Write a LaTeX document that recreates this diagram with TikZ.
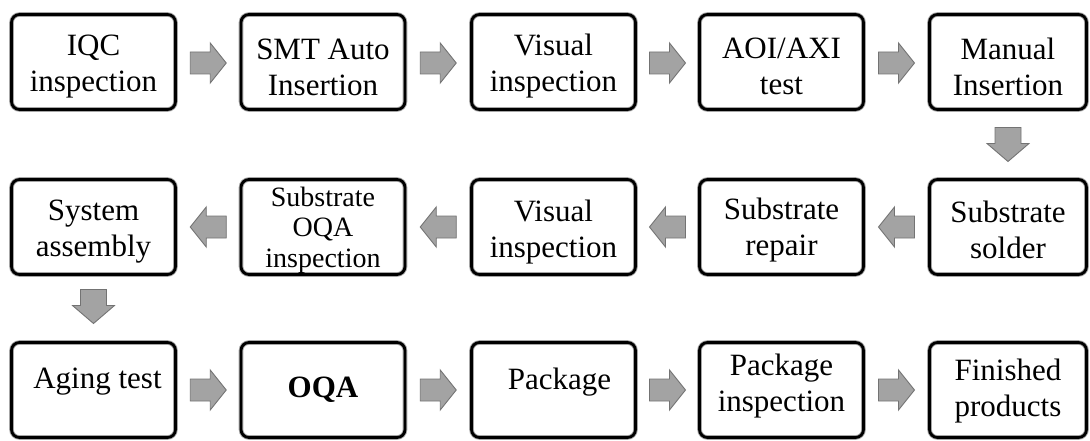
\documentclass[tikz,border=0pt]{standalone}
\usepackage{fontspec}
\setmainfont{Liberation Serif}
\usetikzlibrary{calc}
\newcommand\boxtxt[1]{\parbox{170pt}{\centering\fontsize{31}{36}\selectfont #1\par}}
\newcommand\boxtxtsmall[1]{\parbox{170pt}{\centering\fontsize{28}{30.5}\selectfont #1\par}}
\tikzset{
  x=1pt, y=-1pt,
  procbox/.style={draw=black, line width=2.8pt, rounded corners=8pt,
    minimum width=164pt, minimum height=95pt, inner sep=0pt,
    preaction={draw=black!35, line width=4.6pt}},
  lastbox/.style={procbox, minimum width=157pt},
  tl/.style={align=center, inner sep=0pt, font=\fontsize{31}{36}\selectfont},
  arrowfill/.style={fill=black!36, draw=black!55, line width=0.9pt, line join=miter},
  rarrow/.pic={\filldraw[arrowfill] (-18,-11) -- (2,-11) -- (2,-20) -- (18,0) -- (2,20) -- (2,11) -- (-18,11) -- cycle;},
  darrow/.pic={\filldraw[arrowfill] (-13,-17) -- (13,-17) -- (13,-1) -- (21,-1) -- (0,17) -- (-21,-1) -- (-13,-1) -- cycle;}
}
\begin{document}
\begin{tikzpicture}
\useasboundingbox (0,0) rectangle (1090,441);
% row 1
\node[procbox, label={[tl, yshift=-5pt]center:{\boxtxt{IQC\\inspection}}}] (a1) at (93.5,62) {};
\node[procbox, label={[tl, yshift=-5pt]center:{\boxtxt{SMT Auto\\Insertion}}}] (a2) at (323,62) {};
\node[procbox, label={[tl, yshift=-4pt]center:{\boxtxt{Visual\\inspection}}}] (a3) at (553.5,62) {};
\node[procbox, label={[tl, yshift=-4pt]center:{\boxtxt{AOI/AXI\\test}}}] (a4) at (781.5,62) {};
\node[lastbox, label={[tl, yshift=-5pt]center:{\boxtxt{Manual\\Insertion}}}] (a5) at (1008,62) {};
% row 2
\node[procbox, label={[tl, yshift=-5pt]center:{\boxtxt{System\\assembly}}}] (b1) at (93.5,227) {};
\node[procbox, label={[tl, yshift=-3pt]center:{\boxtxtsmall{Substrate\\OQA\\inspection}}}] (b2) at (323,227) {};
\node[procbox, label={[tl, yshift=-5pt]center:{\boxtxt{Visual\\inspection}}}] (b3) at (553.5,227) {};
\node[procbox, label={[tl, yshift=-3pt]center:{\boxtxt{Substrate\\repair}}}] (b4) at (781.5,227) {};
\node[lastbox, label={[tl, yshift=-3pt]center:{\boxtxt{Substrate\\solder}}}] (b5) at (1008,227) {};
% row 3
\node[procbox, label={[tl, yshift=8pt, xshift=4pt]center:{Aging test}}] (c1) at (93.5,390) {};
\node[procbox, label={[tl, yshift=0pt]center:{\textbf{OQA}}}] (c2) at (323,390) {};
\node[procbox, label={[tl, yshift=8pt, xshift=6pt]center:{Package}}] (c3) at (553.5,390) {};
\node[procbox, label={[tl, yshift=4pt]center:{\boxtxt{Package\\inspection}}}] (c4) at (781.5,390) {};
\node[lastbox, label={[tl, yshift=-1pt]center:{\boxtxt{Finished\\products}}}] (c5) at (1008,390) {};
% arrows row 1
\coordinate (m1) at ($(a1.east)!0.5!(a2.west)$);
\coordinate (m2) at ($(a2.east)!0.5!(a3.west)$);
\coordinate (m3) at ($(a3.east)!0.5!(a4.west)$);
\coordinate (m4) at ($(a4.east)!0.5!(a5.west)$);
\foreach \m in {m1,m2,m3,m4} \pic at ([yshift=-1pt]\m) {rarrow};
% down arrow right
\coordinate (d1) at ($(a5.south)!0.5!(b5.north)$);
\pic at (d1) {darrow};
% arrows row 2 (leftwards)
\coordinate (n1) at ($(b1.east)!0.5!(b2.west)$);
\coordinate (n2) at ($(b2.east)!0.5!(b3.west)$);
\coordinate (n3) at ($(b3.east)!0.5!(b4.west)$);
\coordinate (n4) at ($(b4.east)!0.5!(b5.west)$);
\foreach \m in {n1,n2,n3,n4} \pic[rotate=180] at (\m) {rarrow};
% down arrow left
\coordinate (d2) at ($(b1.south)!0.5!(c1.north)$);
\pic at ([yshift=2pt]d2) {darrow};
% arrows row 3
\coordinate (o1) at ($(c1.east)!0.5!(c2.west)$);
\coordinate (o2) at ($(c2.east)!0.5!(c3.west)$);
\coordinate (o3) at ($(c3.east)!0.5!(c4.west)$);
\coordinate (o4) at ($(c4.east)!0.5!(c5.west)$);
\foreach \m in {o1,o2,o3,o4} \pic at (\m) {rarrow};
\end{tikzpicture}
\end{document}
